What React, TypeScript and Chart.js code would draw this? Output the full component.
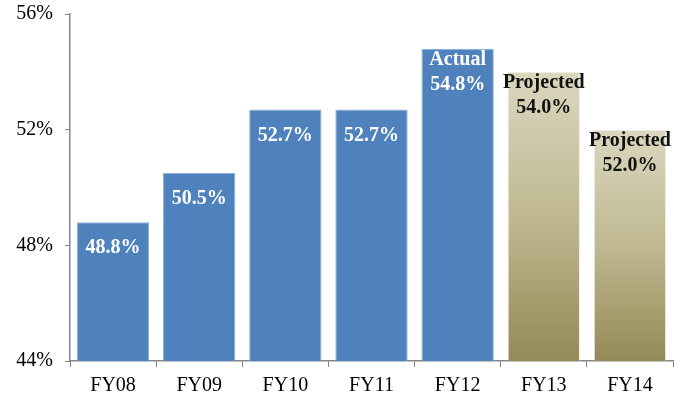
import React, { useEffect, useRef } from "react";
import { Chart, registerables } from "chart.js";

Chart.register(...registerables);

const categories = ["FY08", "FY09", "FY10", "FY11", "FY12", "FY13", "FY14"];
const values = [48.8, 50.5, 52.7, 52.7, 54.8, 54.0, 52.0];
const prefixes = ["", "", "", "", "Actual", "Projected", "Projected"];
const projected = [false, false, false, false, false, true, true];
const yTicks = [44, 48, 52, 56];

const FONT = "'Liberation Serif', 'Times New Roman', serif";

export default function App() {
  const ref = useRef<HTMLCanvasElement | null>(null);

  useEffect(() => {
    document.body.style.margin = "0";
    const canvas = ref.current;
    if (!canvas) return;

    const labelPlugin = {
      id: "barLabels",
      afterDatasetsDraw(chart: any) {
        const ctx = chart.ctx;
        const meta = chart.getDatasetMeta(0);
        ctx.save();
        ctx.textAlign = "center";
        ctx.textBaseline = "middle";
        ctx.font = `bold 20px ${FONT}`;
        meta.data.forEach((el: any, i: number) => {
          const txt = values[i].toFixed(1) + "%";
          ctx.fillStyle = projected[i] ? "#111111" : "#ffffff";
          if (prefixes[i]) {
            ctx.fillText(prefixes[i], el.x, el.y + 11);
            ctx.fillText(txt, el.x, el.y + 36);
          } else {
            ctx.fillText(txt, el.x, el.y + 26);
          }
        });
        ctx.restore();
      },
    };

    const chart = new Chart(canvas, {
      type: "bar",
      data: {
        labels: categories,
        datasets: [
          {
            data: values,
            borderWidth: 1,
            borderSkipped: "bottom",
            borderColor: (c: any) => (projected[c.dataIndex] ? "rgba(230,226,210,0.6)" : "#8FB0DA"),
            categoryPercentage: 1,
            barPercentage: 0.84,
            backgroundColor: (c: any) => {
              const i = c.dataIndex;
              if (!projected[i]) return "#4F81BD";
              const chartObj = c.chart;
              const area = chartObj.chartArea;
              if (!area || i === undefined) return "#C4BD97";
              const top = chartObj.scales.y.getPixelForValue(values[i]);
              const g = chartObj.ctx.createLinearGradient(0, top, 0, area.bottom);
              g.addColorStop(0, "#DCD7BF");
              g.addColorStop(0.5, "#BFB891");
              g.addColorStop(1, "#948A56");
              return g;
            },
          },
        ],
      },
      options: {
        animation: false,
        responsive: false,
        maintainAspectRatio: false,
        layout: { padding: { top: 14, right: 16, left: 0, bottom: 0 } },
        plugins: {
          legend: { display: false },
          tooltip: { enabled: false },
        },
        scales: {
          x: {
            grid: {
              display: true,
              drawOnChartArea: false,
              drawTicks: true,
              tickLength: 6,
              color: "#868686",
              offset: true,
            },
            border: { display: true, color: "#868686", width: 1.5 },
            ticks: {
              color: "#000000",
              font: { family: FONT, size: 20 },
              padding: 7,
            },
            afterFit: (s: any) => {
              s.height = 40;
              s.paddingLeft = 0;
              s.paddingRight = 0;
            },
          },
          y: {
            min: 44,
            max: 56,
            afterBuildTicks: (s: any) => {
              s.ticks = yTicks.map((v) => ({ value: v }));
            },
            grid: {
              display: true,
              drawOnChartArea: false,
              drawTicks: true,
              tickLength: 5,
              color: "#868686",
            },
            border: { display: true, color: "#868686", width: 1.5 },
            ticks: {
              color: "#000000",
              font: { family: FONT, size: 20 },
              padding: 12,
              callback: (v: any) => v + "%",
            },
            afterFit: (s: any) => {
              s.width = 70;
              s.paddingTop = 0;
              s.paddingBottom = 0;
            },
          },
        },
      },
      plugins: [labelPlugin],
    });

    return () => chart.destroy();
  }, []);

  return (
    <div style={{ width: 689, height: 401 }}>
      <canvas ref={ref} width={689} height={401} style={{ display: "block" }} />
    </div>
  );
}
